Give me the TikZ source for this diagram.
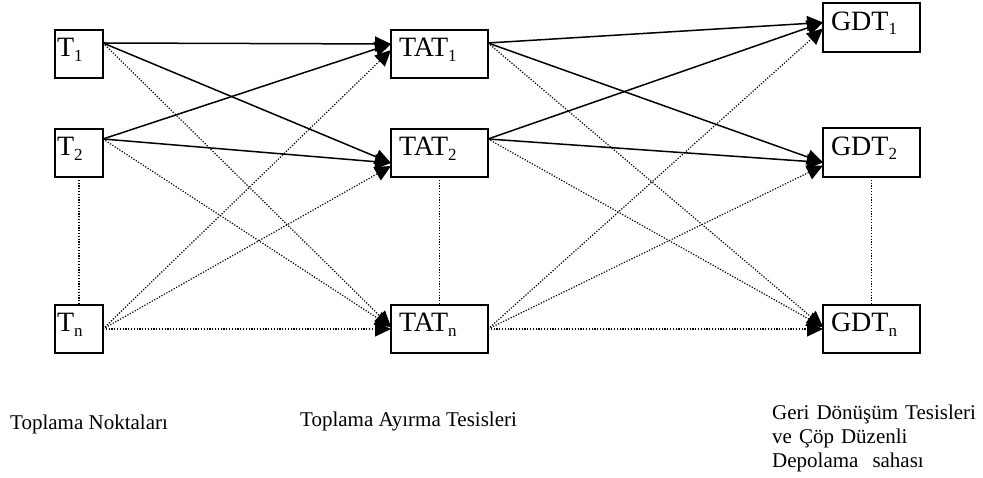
\documentclass[tikz,border=0pt]{standalone}
\usepackage{fontspec}
\setmainfont{Liberation Serif}
\usetikzlibrary{arrows.meta}
\newcommand{\idx}[1]{\raisebox{-0.16em}{\fontsize{17}{17}\selectfont #1}}

\begin{document}
\begin{tikzpicture}[x=1pt,y=1pt,
  cell/.style={draw,line width=1.4pt,inner sep=0pt,outer sep=0pt,inner xsep=2pt,text width=44pt,align=left,
    minimum height=48pt,text height=18pt,text depth=12pt,font=\fontsize{28}{32}\selectfont},
  widecell/.style={cell,inner xsep=8pt,text width=81pt},
  road/.style={line width=1.5pt,-{Triangle[length=16pt,width=15pt]}},
  altroad/.style={line width=1.2pt,dash pattern=on 1.2pt off 1.6pt,-{Triangle[length=16pt,width=15pt]}},
  gap/.style={line width=1.2pt,dash pattern=on 1.2pt off 1.6pt},
  groupname/.style={inner sep=0pt,anchor=base west,font=\fontsize{21}{24}\selectfont}]
\useasboundingbox (0,0) rectangle (983,478);

\node[cell] (T1) at (79,424) {T\idx{1}}; %collection points
\node[cell] (T2) at (79,325) {T\idx{2}};
\node[cell] (Tn) at (79,149) {T\idx{n}};

\node[widecell] (TAT1) at (439.5,424) {TAT\idx{1}}; %sorting plants
\node[widecell] (TAT2) at (439.5,325) {TAT\idx{2}};
\node[widecell] (TATn) at (439.5,149) {TAT\idx{n}};

\node[widecell,minimum height=49pt] (GDT1) at (871.5,450.5) {GDT\idx{1}}; %recycling / landfill
\node[widecell,minimum height=49pt] (GDT2) at (871.5,325.5) {GDT\idx{2}};
\node[widecell] (GDTn) at (871.5,149) {GDT\idx{n}};

\draw[gap] (T2.south) -- (Tn.north);
\draw[gap] (TAT2.south) -- (TATn.north);
\draw[gap] (GDT2.south) -- (GDTn.north);

\draw[road] ([yshift=11pt]T1.east) -- ([yshift=10pt]TAT1.west); %first stage
\draw[road] ([yshift=11pt]T1.east) -- ([yshift=-10pt]TAT2.west);
\draw[road] ([yshift=14pt]T2.east) -- ([yshift=10pt]TAT1.west);
\draw[road] ([yshift=14pt]T2.east) -- ([yshift=-10pt]TAT2.west);
\draw[altroad] ([yshift=11pt]T1.east) -- ([yshift=2pt]TATn.west);
\draw[altroad] ([yshift=14pt]T2.east) -- ([yshift=2pt]TATn.west);
\draw[altroad] (Tn.east) -- ([yshift=4pt]TAT1.west);
\draw[altroad] (Tn.east) -- ([yshift=-13pt]TAT2.west);
\draw[altroad] (Tn.east) -- (TATn.west);

\draw[road] ([yshift=11pt]TAT1.east) -- ([yshift=5pt]GDT1.west); %second stage
\draw[road] ([yshift=11pt]TAT1.east) -- ([yshift=-10pt]GDT2.west);
\draw[road] ([yshift=14pt]TAT2.east) -- ([yshift=5pt]GDT1.west);
\draw[road] ([yshift=14pt]TAT2.east) -- ([yshift=-10pt]GDT2.west);
\draw[altroad] ([yshift=11pt]TAT1.east) -- ([yshift=2pt]GDTn.west);
\draw[altroad] ([yshift=14pt]TAT2.east) -- ([yshift=2pt]GDTn.west);
\draw[altroad] (TATn.east) -- ([yshift=-1pt]GDT1.west);
\draw[altroad] (TATn.east) -- ([yshift=-13pt]GDT2.west);
\draw[altroad] (TATn.east) -- (GDTn.west);

\node[groupname] (lblT) at (10,48) {Toplama Noktaları};
\node[groupname] (lblTAT) at (300,51) {Toplama Ayırma Tesisleri};
\node[groupname,text width=210pt,align=left] (lblGDT) at (772,58) {Geri Dönüşüm Tesisleri\\ve Çöp Düzenli\\Depolama~ sahası};
\end{tikzpicture}
\end{document}
